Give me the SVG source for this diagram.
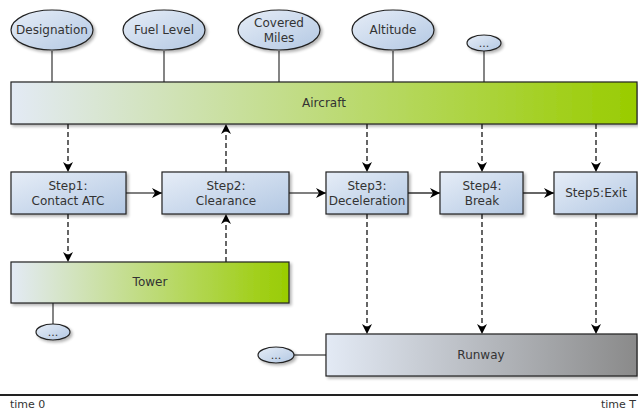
<svg xmlns="http://www.w3.org/2000/svg" width="638" height="410" viewBox="0 0 638 410">
<defs>
<linearGradient id="gGreen" x1="0" y1="0" x2="1" y2="0">
<stop offset="0" stop-color="#e3eaf5"/>
<stop offset="1" stop-color="#99cc00"/>
</linearGradient>
<linearGradient id="gBlue" x1="0" y1="0" x2="1" y2="1">
<stop offset="0" stop-color="#e6edf7"/>
<stop offset="1" stop-color="#b3c8e3"/>
</linearGradient>
<linearGradient id="gGray" x1="0" y1="0" x2="1" y2="0">
<stop offset="0" stop-color="#e3eaf5"/>
<stop offset="1" stop-color="#8a8a8a"/>
</linearGradient>
<filter id="sh" x="-10%" y="-10%" width="130%" height="140%">
<feGaussianBlur in="SourceAlpha" stdDeviation="1.5"/>
<feOffset dx="2" dy="2" result="b"/>
<feComponentTransfer><feFuncA type="linear" slope="0.3"/></feComponentTransfer>
<feMerge><feMergeNode/><feMergeNode in="SourceGraphic"/></feMerge>
</filter>
<marker id="ah" viewBox="0 0 10 10" refX="10" refY="5" markerWidth="10" markerHeight="10" markerUnits="userSpaceOnUse" orient="auto">
<path d="M0,0 L10,5 L0,10 L3,5 Z" fill="#000"/>
</marker>
</defs>
<style>
text{font-family:"DejaVu Sans",Verdana,sans-serif;font-size:12px;fill:#333;text-anchor:middle}
.box{stroke:#222;stroke-width:1.2;filter:url(#sh)}
.blue{fill:url(#gBlue)}
.ell{fill:url(#gBlue);stroke:#222;stroke-width:1.2;filter:url(#sh)}
.ln{stroke:#333;stroke-width:1.2;fill:none}
.dash{stroke:#000;stroke-width:1.2;fill:none;stroke-dasharray:5,3;marker-end:url(#ah)}
.solid{stroke:#000;stroke-width:1.2;fill:none;marker-end:url(#ah)}
.small{font-size:11px}
</style>

<g id="connectors">
<line class="ln" x1="52" y1="51" x2="52" y2="82"/>
<line class="ln" x1="164" y1="51" x2="164" y2="82"/>
<line class="ln" x1="279" y1="51" x2="279" y2="82"/>
<line class="ln" x1="393" y1="51" x2="393" y2="82"/>
<line class="ln" x1="484" y1="51" x2="484" y2="82"/>
<line class="ln" x1="53" y1="303" x2="53" y2="324"/>
<line class="ln" x1="294" y1="355" x2="326" y2="355"/>
<line class="dash" x1="68" y1="124" x2="68" y2="172"/>
<line class="dash" x1="226" y1="172" x2="226" y2="124"/>
<line class="dash" x1="367" y1="124" x2="367" y2="172"/>
<line class="dash" x1="482" y1="124" x2="482" y2="172"/>
<line class="dash" x1="596" y1="124" x2="596" y2="172"/>
<line class="dash" x1="68" y1="214" x2="68" y2="262"/>
<line class="dash" x1="226" y1="262" x2="226" y2="214"/>
<line class="dash" x1="367" y1="214" x2="367" y2="334"/>
<line class="dash" x1="482" y1="214" x2="482" y2="334"/>
<line class="dash" x1="596" y1="214" x2="596" y2="334"/>
<line class="solid" x1="126" y1="193" x2="162" y2="193"/>
<line class="solid" x1="289" y1="193" x2="326" y2="193"/>
<line class="solid" x1="408" y1="193" x2="440" y2="193"/>
<line class="solid" x1="523" y1="193" x2="554" y2="193"/>
</g>

<g id="designation"><ellipse class="ell" cx="52" cy="30" rx="41" ry="20"/><text x="52" y="34">Designation</text></g>
<g id="fuel-level"><ellipse class="ell" cx="164" cy="30" rx="41" ry="20"/><text x="164" y="34">Fuel Level</text></g>
<g id="covered-miles"><ellipse class="ell" cx="279" cy="30" rx="41" ry="20"/><text x="279" y="27">Covered</text><text x="279" y="42">Miles</text></g>
<g id="altitude"><ellipse class="ell" cx="393" cy="30" rx="41" ry="20"/><text x="393" y="34">Altitude</text></g>
<g id="more-aircraft"><ellipse class="ell" cx="484" cy="43" rx="17" ry="8"/><text class="small" x="484" y="47">...</text></g>

<g id="aircraft"><rect class="box" x="11" y="82" width="626" height="42" fill="url(#gGreen)"/><text x="324" y="107">Aircraft</text></g>

<g id="step1"><rect class="box blue" x="11" y="172" width="115" height="42"/><text x="68" y="190">Step1:</text><text x="68" y="205">Contact ATC</text></g>
<g id="step2"><rect class="box blue" x="162" y="172" width="127" height="42"/><text x="226" y="190">Step2:</text><text x="226" y="205">Clearance</text></g>
<g id="step3"><rect class="box blue" x="326" y="172" width="82" height="42"/><text x="367" y="190">Step3:</text><text x="367" y="205">Deceleration</text></g>
<g id="step4"><rect class="box blue" x="440" y="172" width="83" height="42"/><text x="482" y="190">Step4:</text><text x="482" y="205">Break</text></g>
<g id="step5"><rect class="box blue" x="554" y="172" width="83" height="42"/><text x="596" y="197">Step5:Exit</text></g>

<g id="tower"><rect class="box" x="11" y="262" width="278" height="41" fill="url(#gGreen)"/><text x="150" y="286">Tower</text></g>
<g id="more-tower"><ellipse class="ell" cx="53" cy="332" rx="17" ry="8"/><text class="small" x="53" y="336">...</text></g>

<g id="runway"><rect class="box" x="326" y="334" width="311" height="42" fill="url(#gGray)"/><text x="481" y="359">Runway</text></g>
<g id="more-runway"><ellipse class="ell" cx="276" cy="355" rx="18" ry="8"/><text class="small" x="276" y="359">...</text></g>

<g id="timeline">
<line x1="0" y1="395" x2="638" y2="395" stroke="#222" stroke-width="2"/>
<text class="small" x="10" y="408" style="text-anchor:start">time 0</text>
<text class="small" x="636" y="408" style="text-anchor:end">time T</text>
</g>
</svg>
